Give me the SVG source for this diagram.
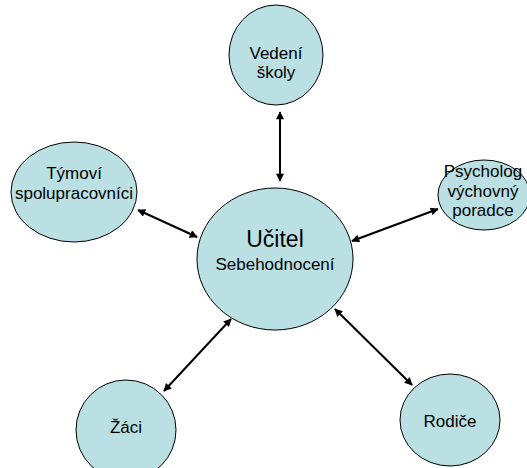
<svg xmlns="http://www.w3.org/2000/svg" width="527" height="468" viewBox="0 0 527 468">
<defs>
<style>
.node{fill:#BAE0E3;stroke:#000;stroke-width:1}
.t{font-family:"Liberation Sans",Arial,sans-serif;font-size:17px;fill:#000;text-anchor:middle}
.edge{stroke:#000;stroke-width:2;fill:none;marker-start:url(#ah);marker-end:url(#ah)}
</style>
<marker id="ah" viewBox="0 0 10 10" refX="9" refY="5" markerWidth="9" markerHeight="8" markerUnits="userSpaceOnUse" orient="auto-start-reverse">
<path d="M0,0 L10,5 L0,10 z" fill="#000"/>
</marker>
</defs>
<rect width="527" height="468" fill="#fff"/>
<g id="connectors">
<line class="edge" x1="280" y1="112" x2="280" y2="181"/>
<line class="edge" x1="138" y1="210" x2="197" y2="237"/>
<line class="edge" x1="352" y1="241" x2="438" y2="209"/>
<line class="edge" x1="164" y1="391" x2="231" y2="319"/>
<line class="edge" x1="335" y1="309" x2="412" y2="385"/>
</g>
<g id="vedeni">
<ellipse class="node" cx="276" cy="55" rx="47" ry="50"/>
<text class="t" x="276" y="59">Vedení</text>
<text class="t" x="276" y="78">školy</text>
</g>
<g id="tymovi">
<ellipse class="node" cx="74" cy="192" rx="63" ry="50"/>
<text class="t" x="74" y="179">Týmoví</text>
<text class="t" x="74" y="199">spolupracovníci</text>
</g>
<g id="psycholog">
<ellipse class="node" cx="484" cy="195" rx="46" ry="35"/>
<text class="t" x="483" y="177">Psycholog</text>
<text class="t" x="483" y="197">výchovný</text>
<text class="t" x="483" y="216">poradce</text>
</g>
<g id="ucitel">
<ellipse class="node" cx="275" cy="259" rx="78" ry="71"/>
<text class="t" x="275" y="247" style="font-size:23px">Učitel</text>
<text class="t" x="275" y="270">Sebehodnocení</text>
</g>
<g id="zaci">
<ellipse class="node" cx="126" cy="430" rx="50" ry="50"/>
<text class="t" x="126" y="433">Žáci</text>
</g>
<g id="rodice">
<ellipse class="node" cx="450" cy="420" rx="50" ry="46"/>
<text class="t" x="450" y="427">Rodiče</text>
</g>
</svg>
